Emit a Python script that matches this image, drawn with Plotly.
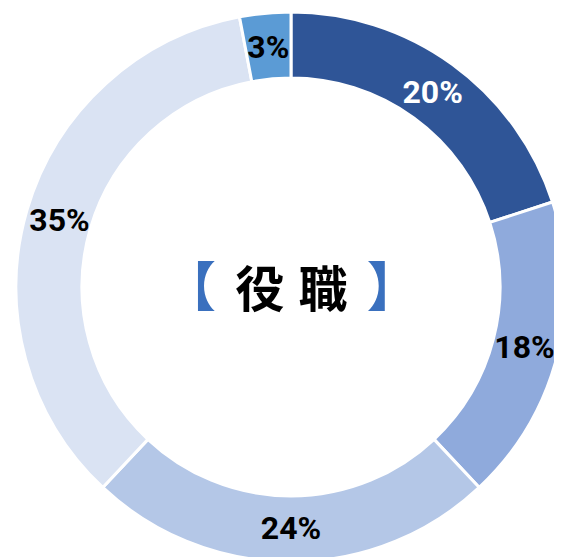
import plotly.graph_objects as go

categories = ["A", "B", "C", "D", "E"]
values = [20, 18, 24, 35, 3]
colors = ["#2F5597", "#8FAADC", "#B4C7E7", "#DAE3F3", "#5B9BD5"]
label_colors = ["#FFFFFF", "#000000", "#000000", "#000000", "#000000"]
center_title = "役 \u200a職"

label_fmt = "<b>%{value}%</b>"
small = [v < 5 for v in values]  # narrow slices get their own label ring

fig = go.Figure()

# ring of slices
fig.add_trace(
    go.Pie(
        labels=categories,
        values=values,
        sort=False,
        direction="clockwise",
        rotation=0,
        hole=0.76,
        marker=dict(colors=colors, line=dict(color="#FFFFFF", width=3)),
        textinfo="none",
        hoverinfo="label+value",
        showlegend=False,
        domain=dict(x=[0.01423, 0.99288], y=[0.005386, 0.99282]),
    )
)

# transparent companion ring carrying the percentage labels of wide slices
fig.add_trace(
    go.Pie(
        labels=categories,
        values=values,
        sort=False,
        direction="clockwise",
        rotation=0,
        hole=0.734,
        marker=dict(colors=["rgba(0,0,0,0)"] * len(values), line=dict(width=0)),
        texttemplate=["" if s else label_fmt for s in small],
        textposition="inside",
        insidetextorientation="horizontal",
        textfont=dict(family="Roboto", size=32, color=label_colors),
        hoverinfo="skip",
        showlegend=False,
        domain=dict(x=[5 / 562, 561 / 562], y=[0.0, 556 / 557]),
    )
)

# transparent pie carrying the labels of narrow slices
fig.add_trace(
    go.Pie(
        labels=categories,
        values=values,
        sort=False,
        direction="clockwise",
        rotation=0,
        hole=0,
        marker=dict(colors=["rgba(0,0,0,0)"] * len(values), line=dict(width=0)),
        texttemplate=[label_fmt if s else "" for s in small],
        textposition="inside",
        insidetextorientation="horizontal",
        textfont=dict(family="Roboto", size=32, color=label_colors),
        hoverinfo="skip",
        showlegend=False,
        domain=dict(x=[19 / 562, 547 / 562], y=[0.025135, 0.97307]),
    )
)

bracket_style = "color:#3A70BE;font-size:53px"
fig.add_annotation(
    x=0.5036, y=0.505, xref="paper", yref="paper",
    text="<b><span style='" + bracket_style + "'>【</span> \u2006" + center_title
         + " \u2006<span style='" + bracket_style + "'>】</span></b>",
    showarrow=False,
    font=dict(family="Noto Sans CJK JP", size=49, color="#000000"),
    xanchor="center", yanchor="middle",
)

fig.update_layout(
    width=562, height=557,
    margin=dict(l=0, r=0, t=0, b=0),
    paper_bgcolor="#FFFFFF",
    plot_bgcolor="#FFFFFF",
    uniformtext=dict(minsize=32, mode="show"),
)

fig.write_html("out.html")
